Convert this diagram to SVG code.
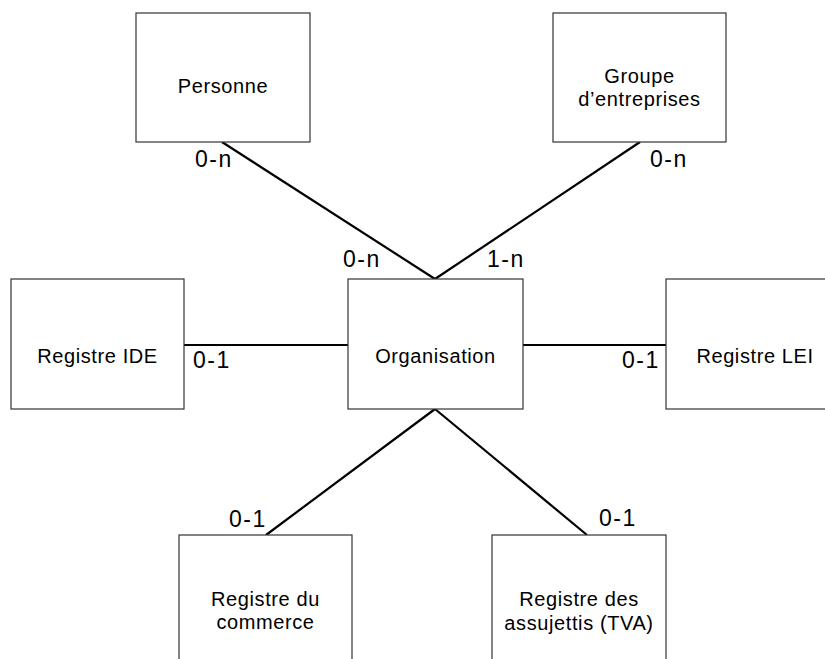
<svg xmlns="http://www.w3.org/2000/svg" width="825" height="659" viewBox="0 0 825 659">
<style>
.box{fill:#fff;stroke:#333;stroke-width:1.2}
.t{font-family:"Liberation Sans",Arial,sans-serif;font-size:20px;letter-spacing:0.6px;fill:#000;text-anchor:middle}
.lbl{font-family:"Liberation Sans",Arial,sans-serif;font-size:23px;letter-spacing:1.5px;fill:#000}
.c{stroke:#000;stroke-width:2.2;fill:none}
</style>
<rect width="825" height="659" fill="#fff"/>
<g id="connectors">
<line class="c" x1="222" y1="142" x2="435" y2="279"/>
<line class="c" x1="640" y1="142" x2="435" y2="279"/>
<line class="c" x1="184" y1="345" x2="348" y2="345"/>
<line class="c" x1="523" y1="345" x2="666" y2="345"/>
<line class="c" x1="266" y1="535" x2="435" y2="409"/>
<line class="c" x1="435" y1="409" x2="587" y2="535"/>
<text class="lbl" x="195" y="167">0-n</text>
<text class="lbl" x="650" y="167">0-n</text>
<text class="lbl" x="343" y="267">0-n</text>
<text class="lbl" x="487" y="267">1-n</text>
<text class="lbl" x="193" y="368">0-1</text>
<text class="lbl" x="622" y="368">0-1</text>
<text class="lbl" x="229" y="527">0-1</text>
<text class="lbl" x="599" y="526">0-1</text>
</g>
<g id="personne">
<rect class="box" x="136" y="13" width="174" height="129"/>
<text class="t" x="223" y="93">Personne</text>
</g>
<g id="groupe">
<rect class="box" x="553" y="13" width="173" height="129"/>
<text class="t" x="639.5" y="83">Groupe</text>
<text class="t" x="639.5" y="106">d’entreprises</text>
</g>
<g id="organisation">
<rect class="box" x="348" y="279" width="175" height="130"/>
<text class="t" x="435.5" y="363">Organisation</text>
</g>
<g id="registre-ide">
<rect class="box" x="11" y="279" width="173" height="130"/>
<text class="t" x="97.5" y="363">Registre IDE</text>
</g>
<g id="registre-lei">
<rect class="box" x="666" y="279" width="174" height="130"/>
<text class="t" x="755" y="363">Registre LEI</text>
</g>
<g id="registre-commerce">
<rect class="box" x="179" y="535" width="173" height="150"/>
<text class="t" x="265.5" y="606">Registre du</text>
<text class="t" x="265.5" y="629">commerce</text>
</g>
<g id="registre-tva">
<rect class="box" x="492" y="535" width="174" height="150"/>
<text class="t" x="579" y="606">Registre des</text>
<text class="t" x="579" y="630">assujettis (TVA)</text>
</g>
</svg>
